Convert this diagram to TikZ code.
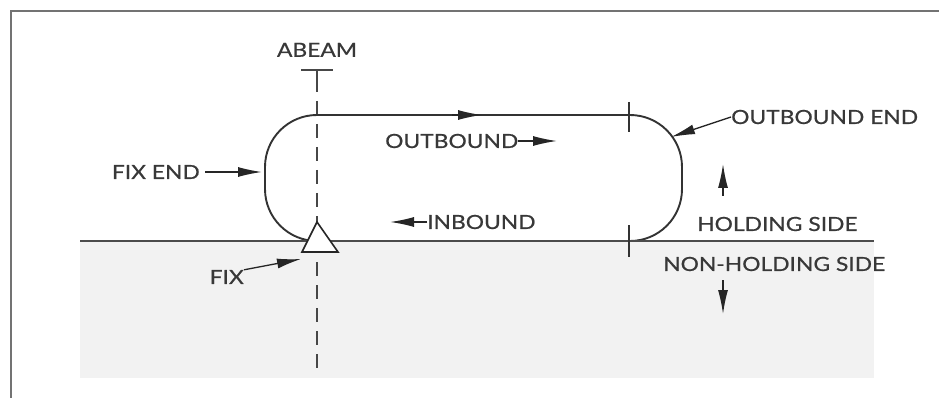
\documentclass[tikz,border=0pt]{standalone}
\usepackage{fontspec}
\setmainfont{Lato}[FakeStretch=1.17,FakeBold=0.6]
\usetikzlibrary{arrows.meta}
\begin{document}
\begin{tikzpicture}[x=1pt,y=-1pt,
  lbl/.style={font=\fontsize{19.5}{19.5}\selectfont, inner sep=0pt, text=black!78},
  arr/.style={-{Latex[length=24pt,width=10pt]}, line width=1.3pt, draw=black!85, fill=black!85},
  track/.style={line width=1.9pt, draw=black!80},
  tick/.style={line width=1.5pt, draw=black!80}]
\useasboundingbox (0,0) rectangle (939,398);
% non-holding side shading
\fill[black!5] (80,241) rectangle (874,378);
% frame
\draw[black!55, line width=2.5pt] (11,398) -- (11,11) -- (939,11);
% abeam line
\draw[black!72, line width=2pt, dash pattern=on 14pt off 9pt] (317,78) -- (317,372);
\draw[black!72, line width=2pt] (317,70) -- (317,80);
\draw[black!72, line width=2pt] (301,70) -- (333,70);
\node[lbl, anchor=south] (abeam) at (317,57) {ABEAM};
% racetrack
\draw[track, rounded corners=52pt] (265,115) rectangle (682,241);
% holding line
\draw[black!70, line width=2.6pt] (80,241) -- (874,241);
% ticks
\draw[tick] (629,102) -- (629,132);
\draw[tick] (629,225) -- (629,257);
% direction arrow on outbound leg
\coordinate (oa1) at (452,115);
\coordinate (oa2) at (482,115);
\draw[arr] (oa1) -- (oa2);
% fix triangle
\draw[black!85, line width=1.6pt, fill=white] (317,222) -- (338,252) -- (302,252) -- cycle;
\coordinate (fixpt) at (301,259);
% labels
\node[lbl, anchor=west] (outb) at (385,141) {OUTBOUND};
\coordinate (ob2) at (557,141);
\draw[arr] (outb.east) -- (ob2);
\node[lbl, anchor=west] (inb) at (427,222) {INBOUND};
\coordinate (ib2) at (390,222);
\draw[arr] (inb.west) -- (ib2);
\node[lbl, anchor=east] (fixend) at (200,172) {FIX END};
\coordinate (fe2) at (262,172);
\draw[arr] ([xshift=5pt]fixend.east) -- (fe2);
\node[lbl, anchor=east] (fix) at (244,277) {FIX};
\draw[arr] (fix.north east) -- (fixpt);
\node[lbl, anchor=west] (obend) at (731,117) {OUTBOUND END};
\coordinate (oe2) at (671,137);
\draw[arr] (obend.west) -- (oe2);
\node[lbl, anchor=west] (hold) at (697,224) {HOLDING SIDE};
\coordinate (up1) at (723,196);
\coordinate (up2) at (723,164);
\draw[arr] (up1) -- (up2);
\node[lbl, anchor=west] (nonhold) at (663,264) {NON-HOLDING SIDE};
\coordinate (dn1) at (723,280);
\coordinate (dn2) at (723,314);
\draw[arr] (dn1) -- (dn2);
\end{tikzpicture}
\end{document}
